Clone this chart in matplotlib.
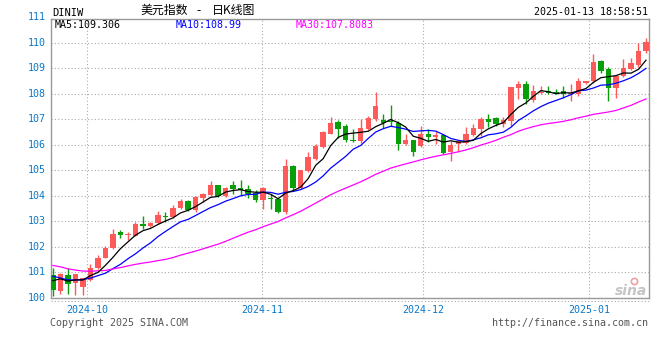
import numpy as np
import pandas as pd
import matplotlib
matplotlib.use('Agg')
import matplotlib.pyplot as plt
from matplotlib.lines import Line2D

# daily candles, 2024-09-24 .. 2025-01-13
dates = pd.bdate_range('2024-09-24', '2025-01-13')
opens = [100.90, 100.29, 100.90, 100.57, 100.42, 100.70, 101.17, 101.58, 101.96, 102.58,
         102.46, 102.45, 102.89, 102.84, 102.94, 103.22, 103.19, 103.51, 103.80, 103.45,
         103.92, 104.04, 104.43, 104.01, 104.43, 104.32, 104.26, 104.10, 103.84, 103.92,
         103.88, 103.36, 105.18, 104.32, 104.97, 105.45, 105.93, 106.45, 106.90, 106.75,
         106.20, 106.16, 106.62, 107.00, 106.97, 106.95, 106.87, 106.03, 106.19, 105.97,
         106.43, 106.32, 106.39, 105.71, 106.04, 106.08, 106.40, 106.62, 107.01, 107.05,
         106.82, 106.95, 108.22, 108.41, 107.75, 108.05, 108.12, 108.09, 108.12, 107.99,
         107.99, 108.45, 108.49, 109.30, 108.97, 108.25, 108.71, 108.97, 109.14, 109.70]
highs = [101.17, 100.98, 101.17, 100.95, 100.78, 101.32, 101.69, 102.02, 102.69, 102.66,
         102.60, 102.97, 103.20, 102.99, 103.41, 103.36, 103.64, 103.90, 103.83, 104.01,
         104.10, 104.60, 104.45, 104.34, 104.60, 104.63, 104.43, 104.24, 104.37, 104.08,
         103.92, 105.46, 105.21, 105.00, 105.71, 106.03, 106.55, 107.09, 106.97, 106.81,
         106.62, 107.00, 107.13, 108.08, 107.22, 107.56, 106.94, 106.42, 106.20, 106.73,
         106.62, 106.56, 106.43, 106.14, 106.19, 106.69, 106.82, 107.08, 107.21, 107.10,
         107.08, 108.27, 108.51, 108.51, 108.36, 108.32, 108.32, 108.18, 108.32, 108.38,
         108.62, 108.49, 109.57, 109.33, 109.07, 108.71, 109.39, 109.43, 110.00, 110.20]
lows = [100.09, 100.16, 100.16, 100.13, 100.13, 100.65, 101.14, 101.57, 101.93, 102.37,
        102.28, 102.44, 102.72, 102.78, 102.91, 102.99, 103.15, 103.48, 103.42, 103.39,
        103.75, 104.01, 103.95, 103.95, 104.08, 104.05, 103.92, 103.78, 103.49, 103.49,
        103.32, 103.29, 104.21, 104.28, 104.95, 105.41, 105.90, 106.42, 106.29, 106.10,
        106.10, 106.06, 106.58, 106.94, 106.68, 106.75, 105.80, 106.00, 105.58, 105.94,
        106.10, 106.04, 105.65, 105.39, 105.75, 106.04, 106.36, 106.36, 106.69, 106.75,
        106.69, 106.75, 107.79, 107.59, 107.70, 107.99, 107.99, 107.99, 107.83, 107.72,
        107.92, 108.38, 108.45, 108.84, 107.72, 107.86, 108.67, 108.93, 109.07, 109.59]
closes = [100.31, 100.96, 100.55, 100.94, 100.77, 101.17, 101.58, 101.95, 102.50, 102.47,
          102.50, 102.89, 102.84, 102.94, 103.25, 103.18, 103.51, 103.80, 103.45, 103.97,
          104.08, 104.43, 103.99, 104.30, 104.28, 104.24, 104.07, 103.84, 104.32, 103.87,
          103.36, 105.18, 104.32, 105.00, 105.54, 105.97, 106.49, 106.87, 106.62, 106.19,
          106.16, 106.65, 107.07, 107.52, 106.85, 106.90, 106.03, 106.20, 105.74, 106.43,
          106.32, 106.39, 105.69, 106.00, 106.14, 106.43, 106.66, 107.01, 106.92, 106.82,
          106.97, 108.27, 108.40, 107.79, 108.12, 108.09, 108.03, 108.03, 107.99, 108.05,
          108.51, 108.49, 109.24, 108.91, 108.25, 108.71, 109.01, 109.20, 109.67, 110.03]
# closes before the window (only feed the moving averages)
prior_closes = [102.6, 102.9, 102.4, 101.9, 101.4, 101.1, 101.5, 100.7, 100.9, 100.5,
                101.1, 101.3, 101.7, 101.6, 101.8, 101.3, 101.0, 101.1, 101.5, 101.5,
                101.6, 101.3, 101.0, 100.6, 100.6, 100.6, 101.0, 100.7, 100.79]

month_pos = [4.6, 27.9, 49.3, 71.45]
month_labels = ['2024-10', '2024-11', '2024-12', '2025-01']
y_labels = list(range(100, 112))

df = pd.DataFrame({'open': opens, 'high': highs, 'low': lows, 'close': closes}, index=dates)
allc = pd.Series(prior_closes + closes)
n0 = len(prior_closes)
ma5 = allc.rolling(5).mean().values[n0:]
ma10 = allc.rolling(10).mean().values[n0:]
ma30 = allc.rolling(30).mean().values[n0:]

RED = '#ff5a5a'
GREEN = '#089e08'
BLUE_TXT = '#0a78c8'
MONO = 'DejaVu Sans Mono'
CJK = ['Noto Sans CJK SC', 'DejaVu Sans']

fig = plt.figure(figsize=(6.6, 3.6), dpi=100)
W, H = 660, 360
ax = fig.add_axes([51 / W, 1 - 298 / H, 598 / W, 279 / H])

x = np.arange(len(df))
up = df['close'].values >= df['open'].values
cols = np.where(up, RED, GREEN)
bot = np.minimum(df['open'].values, df['close'].values)
hgt = np.maximum(np.abs(df['close'].values - df['open'].values), 0.04)

ax.vlines(x, df['low'], df['high'], colors=cols, linewidth=1.0, zorder=3)
ax.bar(x, hgt, bottom=bot, width=0.72, color=cols, linewidth=0, zorder=4)

ax.plot(x, ma5, color='black', lw=0.9, zorder=6)
ax.plot(x, ma10, color='#0000ff', lw=0.9, zorder=5)
ax.plot(x, ma30, color='#ff00ff', lw=0.9, zorder=5)

ax.set_xlim(-0.25, 79.4)
ax.set_ylim(100, 110.94)

ax.set_yticks(range(101, 111))
ax.set_yticklabels([])
ax.set_xticks(month_pos)
ax.set_xticklabels(month_labels, fontfamily=MONO, fontsize=7.2, color=BLUE_TXT)
ax.tick_params(length=0)
ax.tick_params(axis='x', pad=5)
ax.grid(True, color='#aaaaaa', linestyle=(0, (1, 2)), linewidth=0.8)
ax.set_axisbelow(True)
for s in ax.spines.values():
    s.set_color('#999999')
    s.set_linewidth(1.0)

for v in y_labels:
    ax.text(-0.009, v, str(v), transform=ax.get_yaxis_transform(), ha='right', va='center',
            fontfamily=MONO, fontsize=7.2, color=BLUE_TXT, clip_on=False)

# dotted line under the frame
fig.add_artist(Line2D([51 / W, 649 / W], [1 - 300.5 / H] * 2, color='#aaaaaa',
                      linestyle=(0, (1, 2)), linewidth=0.8))

def ptext(px, py, s, **kw):
    fig.text(px / W, 1 - py / H, s, va='center', **kw)

ptext(52, 12.5, 'DINIW', fontfamily=MONO, fontsize=7.5, color='black')
ptext(140, 10.5, '美元指数', family=CJK, fontsize=8.6, color='black')
ptext(199, 10.5, '-', ha='center', family=CJK, fontsize=8.6, color='black')
ptext(212, 10.5, '日K线图', family=CJK, fontsize=8.6, color='black')
ptext(648, 12, '2025-01-13 18:58:51', ha='right', fontfamily=MONO, fontsize=7.2, color='black')
ptext(55, 25, 'MA5:109.306', fontfamily=MONO, fontsize=7.2, color='black')
ptext(175.5, 25, 'MA10:108.99', fontfamily=MONO, fontsize=7.2, color='#0000ff')
ptext(296, 25, 'MA30:107.8083', fontfamily=MONO, fontsize=7.2, color='#ff00ff')
ptext(50, 323, 'Copyright 2025 SINA.COM', fontfamily=MONO, fontsize=7.2, color='#555555')
ptext(648, 323, 'http://finance.sina.com.cn', ha='right', fontfamily=MONO, fontsize=7.2,
      color='#555555')
# faint sina logo
ptext(631, 291, 'sina', ha='center', fontsize=10, fontweight='bold', style='italic',
      color='#c4c4c4')
fig.add_artist(Line2D([634 / W], [1 - 281 / H], marker='o', markersize=4.5,
                      markerfacecolor='none', markeredgecolor='#f0a0a0', markeredgewidth=1.2))

fig.savefig('out.png', dpi=100)
